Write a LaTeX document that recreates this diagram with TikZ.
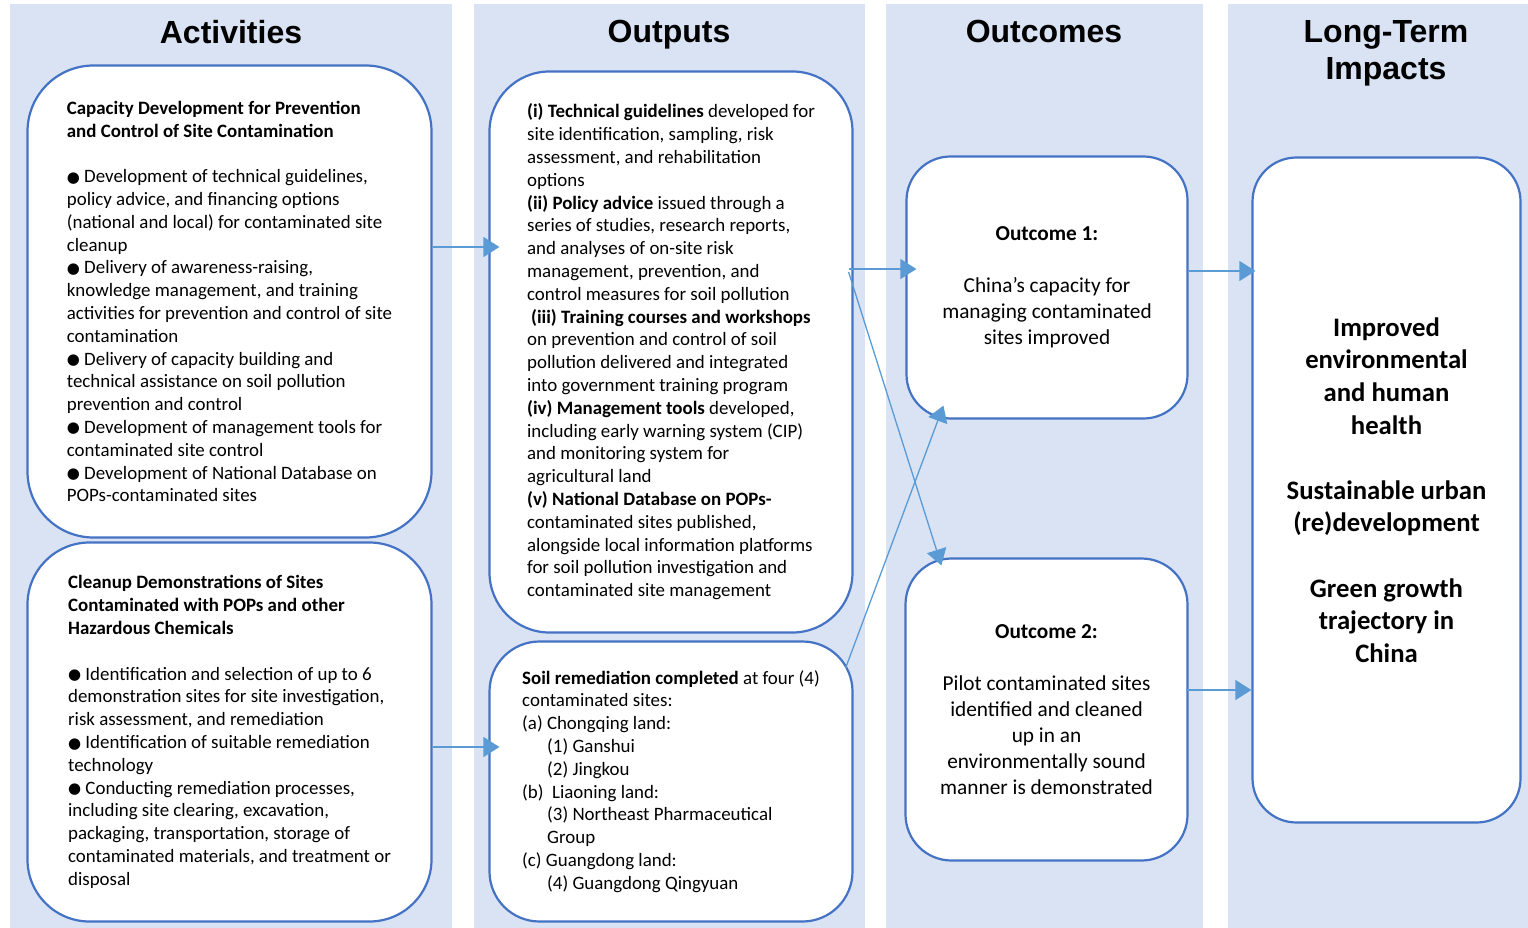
\documentclass[tikz,border=0pt]{standalone}
\usepackage{fontspec}
\setmainfont{Carlito}
\newfontfamily\headfont{Liberation Sans}
\newfontfamily\symfont{DejaVu Sans}
\usetikzlibrary{arrows.meta, positioning, calc}
\definecolor{bandblue}{HTML}{DAE3F3}
\definecolor{boxline}{HTML}{4472C4}
\definecolor{linkblue}{HTML}{5B9BD5}
\newcommand{\bul}{{\symfont\fontsize{15}{15}\selectfont\raisebox{0.5pt}{●}}}
\tikzset{
  band/.style={fill=bandblue, inner sep=0pt, anchor=north west},
  colhead/.style={font=\headfont\bfseries\fontsize{32}{37}\selectfont,
                  align=center, inner sep=0pt},
  roundbox/.style={draw=boxline, line width=2.2pt, fill=white, inner sep=0pt,
                   align=left},
  outbox/.style={roundbox, align=center, font=\fontsize{21.3}{26}\selectfont},
  link/.style={-{Triangle[length=16pt, width=20pt]}, linkblue, line width=1.3pt},
}

\begin{document}
\begin{tikzpicture}[x=1pt, y=-1pt, font=\fontsize{18.9}{22.8}\selectfont]
  \useasboundingbox (0,0) rectangle (1528,928);
  \node[band, minimum width=442pt, minimum height=924pt] (actband) at (10,4) {};
  \node[band, minimum width=391pt, minimum height=924pt] (outband) at (474,4) {};
  \node[band, minimum width=317pt, minimum height=924pt] (ocband) at (886,4) {};
  \node[band, minimum width=300pt, minimum height=924pt] (ltband) at (1228,4) {};

  \node[colhead, anchor=north] (acthead) at (231,20) {Activities};
  \node[colhead, anchor=north] (outhead) at (669,20) {Outputs};
  \node[colhead, anchor=north] (ochead) at (1044,20) {Outcomes};
  \node[colhead, anchor=north] (lthead) at (1386,20) {Long-Term\\Impacts};

  \node[roundbox, rounded corners=66pt, minimum width=404pt, minimum height=472pt]
    (a1) at (229.5,301.5) {%
    \textbf{Capacity Development for Prevention}\\
    \textbf{and Control of Site Contamination}\\[22.8pt]
    \bul\ Development of technical guidelines,\\
    policy advice, and financing options\\
    (national and local) for contaminated site\\
    cleanup\\
    \bul\ Delivery of awareness-raising,\\
    knowledge management, and training\\
    activities for prevention and control of site\\
    contamination\\
    \bul\ Delivery of capacity building and\\
    technical assistance on soil pollution\\
    prevention and control\\
    \bul\ Development of management tools for\\
    contaminated site control\\
    \bul\ Development of National Database on\\
    POPs-contaminated sites};
  \node[roundbox, rounded corners=62pt, minimum width=404pt, minimum height=379pt]
    (a2) at (229.5,732) {%
    \textbf{Cleanup Demonstrations of Sites}\\
    \textbf{Contaminated with POPs and other}\\
    \textbf{Hazardous Chemicals}\\[22.8pt]
    \bul\ Identification and selection of up to 6\\
    demonstration sites for site investigation,\\
    risk assessment, and remediation\\
    \bul\ Identification of suitable remediation\\
    technology\\
    \bul\ Conducting remediation processes,\\
    including site clearing, excavation,\\
    packaging, transportation, storage of\\
    contaminated materials, and treatment or\\
    disposal};

  \node[roundbox, rounded corners=60pt, minimum width=363pt, minimum height=561pt]
    (o1) at (671,352) {%
    \textbf{(i) Technical guidelines} developed for\\
    site identification, sampling, risk\\
    assessment, and rehabilitation\\
    options\\
    \textbf{(ii) Policy advice} issued through a\\
    series of studies, research reports,\\
    and analyses of on-site risk\\
    management, prevention, and\\
    control measures for soil pollution\\
    \hspace*{4pt}\textbf{(iii) Training courses and workshops}\\
    on prevention and control of soil\\
    pollution delivered and integrated\\
    into government training program\\
    \textbf{(iv) Management tools} developed,\\
    including early warning system (CIP)\\
    and monitoring system for\\
    agricultural land\\
    \textbf{(v) National Database on POPs-}\\
    contaminated sites published,\\
    alongside local information platforms\\
    for soil pollution investigation and\\
    contaminated site management};
  \node[roundbox, rounded corners=50pt, minimum width=363pt, minimum height=280pt]
    (o2) at (671,781.5) {%
    \textbf{Soil remediation completed} at four (4)\\
    contaminated sites:\\
    (a) Chongqing land:\\
    \hspace*{25pt}(1) Ganshui\\
    \hspace*{25pt}(2) Jingkou\\
    (b)\ \ Liaoning land:\\
    \hspace*{25pt}(3) Northeast Pharmaceutical\\
    \hspace*{25pt}Group\\
    (c) Guangdong land:\\
    \hspace*{25pt}(4) Guangdong Qingyuan};

  \node[outbox, rounded corners=44pt, minimum width=281pt, minimum height=262pt]
    (oc1) at (1047,287.5) {%
    \textbf{Outcome 1:}\\[26pt]
    China’s capacity for\\
    managing contaminated\\
    sites improved};
  \node[outbox, rounded corners=46pt, minimum width=282pt, minimum height=302pt]
    (oc2) at (1046.5,709.5) {%
    \textbf{Outcome 2:}\\[26pt]
    Pilot contaminated sites\\
    identified and cleaned\\
    up in an\\
    environmentally sound\\
    manner is demonstrated};

  \node[outbox, rounded corners=44pt, minimum width=268pt, minimum height=665pt,
        font=\bfseries\fontsize{26.7}{32.6}\selectfont]
    (lt) at (1386.5,490) {%
    Improved\\
    environmental\\
    and human\\
    health\\[32.6pt]
    Sustainable urban\\
    (re)development\\[32.6pt]
    Green growth\\
    trajectory in\\
    China};

  \draw[link, shorten >=-11pt] (a1.east |- 0,247) -- (o1.west |- 0,247);
  \draw[link, shorten >=-11pt] (a2.east |- 0,747) -- (o2.west |- 0,747);
  \draw[link, shorten <=-5pt, shorten >=-11pt] (o1.east |- 0,269) -- (oc1.west |- 0,269);
  \draw[link] ($(o1.east |- 0,272)+(-5,0)$) -- ($(oc2.north west)+(37,8)$);
  \draw[link] ($(o2.east |- 0,668)+(-8,0)$) -- ($(oc1.south west)+(38,-14)$);
  \draw[link, shorten >=-4pt] (oc1.east |- 0,271) -- (lt.west |- 0,271);
  \draw[link, shorten <=-3pt] (oc2.east |- 0,690) -- (lt.west |- 0,690);
\end{tikzpicture}
\end{document}
